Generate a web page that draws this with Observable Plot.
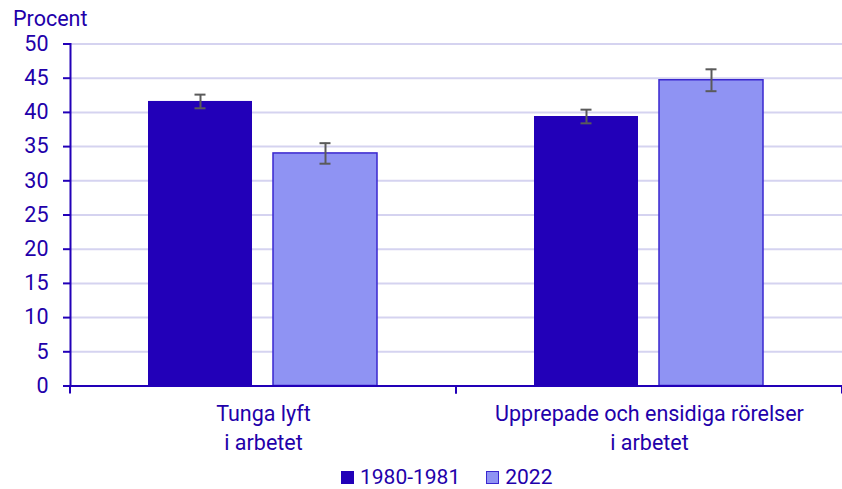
<!DOCTYPE html>
<html><head><meta charset="utf-8">
<script src="https://cdn.jsdelivr.net/npm/d3@7"></script>
<script src="https://cdn.jsdelivr.net/npm/@observablehq/plot@0.6"></script>
<style>
html,body{margin:0;padding:0;background:#fff}
body{font-family:Roboto,sans-serif;color:#2200aa;width:842px;height:489px;overflow:hidden;position:relative}
#title{position:absolute;left:13px;top:6px;font-size:21.5px;line-height:26px}
#chart{position:absolute;left:0;top:34px}
#legend{position:absolute;left:341px;top:467px;display:flex;align-items:center;font-size:21px;line-height:21px;height:21px}
#legend .item{display:flex;align-items:center;margin-right:26px}
#legend .sw{width:13px;height:13px;box-sizing:border-box;margin-right:6px}
</style></head><body>
<div id="title">Procent</div>
<div id="chart"></div>
<div id="legend"></div>
<script>
const categories = ["Tunga lyft\ni arbetet", "Upprepade och ensidiga rörelser\ni arbetet"];
const series = ["1980-1981", "2022"];
const values1980 = [41.6, 39.4];
const values2022 = [34.0, 44.7];
const margin1980 = [1.0, 1.0];
const margin2022 = [1.5, 1.6];
const yTicks = [0, 5, 10, 15, 20, 25, 30, 35, 40, 45, 50];

const textColor = "#2200aa";
const darkColor = "#2200b8";
const lightColor = "#8f93f3";
const lightBorder = "#3a27cf";
const gridColor = "#d5d3f0";
const errColor = "#5a5a5a";
const fontPx = 21.5;

const valuesBySeries = [values1980, values2022];
const marginsBySeries = [margin1980, margin2022];
const rows = categories.flatMap((c, i) => series.map((s, j) => ({
  category: c, series: s, value: valuesBySeries[j][i], err: marginsBySeries[j][i]
})));

// boundary ticks below baseline at facet edges
function edgeTicks(index, scales, values, dims) {
  const g = d3.create("svg:g");
  const [x0, x1] = scales.x.range();
  const y0 = scales.y(0);
  for (const x of [x0, x1]) {
    g.append("line").attr("x1", x).attr("x2", x).attr("y1", y0).attr("y2", y0 + 8)
      .attr("stroke", darkColor).attr("stroke-width", 2);
  }
  return g.node();
}

const chart = Plot.plot({
  width: 842, height: 425,
  marginLeft: 69, marginRight: 0, marginTop: 9.5, marginBottom: 73.5,
  style: {fontFamily: "Roboto, sans-serif", fontSize: fontPx + "px", color: textColor, background: "transparent", overflow: "visible"},
  fx: {domain: categories, padding: 0, label: null},
  x: {domain: series, paddingInner: 21 / 126, paddingOuter: 0.623, axis: null, label: null},
  y: {domain: [0, 50], label: null},
  marks: [
    Plot.gridY(yTicks, {stroke: gridColor, strokeOpacity: 1, strokeWidth: 2}),
    Plot.frame({anchor: "left", facet: "super", stroke: darkColor, strokeWidth: 2}),
    Plot.axisY(yTicks, {tickSize: 7, tickPadding: 15, stroke: darkColor, strokeWidth: 2, fill: textColor, label: null, fontSize: fontPx}),
    Plot.axisFx({anchor: "bottom", tickSize: 0, tickPadding: 15, label: null, fill: textColor, lineHeight: 1.33, fontSize: fontPx}),
    Plot.barY(rows.filter(d => d.series === series[0]), {fx: "category", x: "series", y: "value", fill: darkColor}),
    Plot.barY(rows.filter(d => d.series === series[1]), {fx: "category", x: "series", y: "value", fill: lightColor, stroke: lightBorder, strokeWidth: 1.5}),
    Plot.ruleX(rows, {fx: "category", x: "series", y1: d => d.value - d.err, y2: d => d.value + d.err, stroke: errColor, strokeWidth: 2}),
    Plot.tickY(rows, {fx: "category", x: "series", y: d => d.value - d.err, stroke: errColor, strokeWidth: 2, insetLeft: 46.5, insetRight: 46.5}),
    Plot.tickY(rows, {fx: "category", x: "series", y: d => d.value + d.err, stroke: errColor, strokeWidth: 2, insetLeft: 46.5, insetRight: 46.5}),
    Plot.ruleY([0], {stroke: darkColor, strokeWidth: 2}),
    edgeTicks
  ]
});
document.getElementById("chart").appendChild(chart);

const legend = document.getElementById("legend");
const swatchStyles = [{fill: darkColor, border: darkColor}, {fill: lightColor, border: lightBorder}];
series.forEach((s, i) => {
  const item = document.createElement("div");
  item.className = "item";
  const sw = document.createElement("span");
  sw.className = "sw";
  sw.style.background = swatchStyles[i].fill;
  sw.style.border = "1px solid " + swatchStyles[i].border;
  const label = document.createElement("span");
  label.textContent = s;
  item.appendChild(sw); item.appendChild(label);
  legend.appendChild(item);
});
</script>
</body></html>
